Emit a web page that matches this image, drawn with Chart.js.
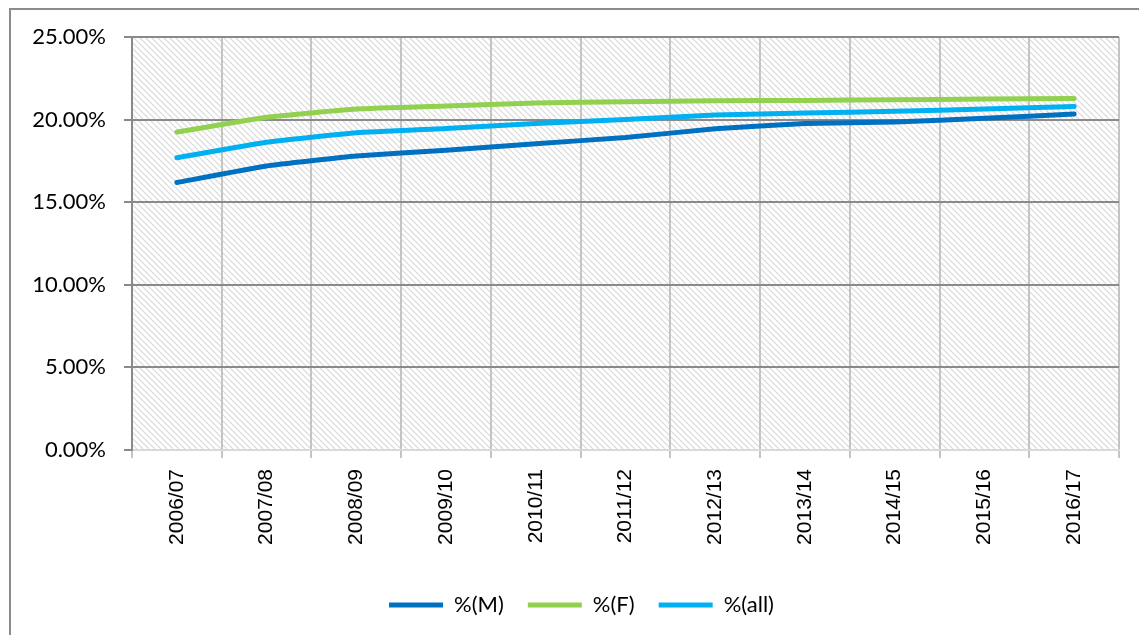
<!DOCTYPE html>
<html>
<head>
<meta charset="utf-8">
<script src="https://cdn.jsdelivr.net/npm/chart.js@4.4.1/dist/chart.umd.min.js"></script>
<style>
  html, body { margin: 0; padding: 0; background: #fff; }
  #frame {
    position: absolute; left: 9px; top: 8px; width: 1140px; height: 640px;
    border-left: 2px solid #8c8c8c; border-top: 2px solid #8c8c8c;
  }
  #wrap { position: absolute; left: 0; top: 0; width: 1139px; height: 635px; }
</style>
</head>
<body>
<div id="frame"></div>
<div id="wrap"><canvas id="shareChart"></canvas></div>
<script>
const years = ["2006/07", "2007/08", "2008/09", "2009/10", "2010/11", "2011/12",
               "2012/13", "2013/14", "2014/15", "2015/16", "2016/17"];
const pctMale   = [16.19, 17.19, 17.79, 18.15, 18.54, 18.92, 19.44, 19.76, 19.86, 20.08, 20.34];
const pctFemale = [19.24, 20.14, 20.64, 20.82, 21.00, 21.08, 21.14, 21.16, 21.20, 21.24, 21.27];
const pctAll    = [17.69, 18.63, 19.20, 19.46, 19.76, 20.00, 20.28, 20.40, 20.50, 20.64, 20.80];
const yTicks    = [0, 5, 10, 15, 20, 25];

// diagonal hatch used as the plot background
function makeHatch(ctx) {
    const tile = document.createElement("canvas");
    tile.width = 6;
    tile.height = 6;
    const t = tile.getContext("2d");
    t.fillStyle = "#ffffff";
    t.fillRect(0, 0, 6, 6);
    t.strokeStyle = "#d9d9d9";
    t.lineWidth = 1.2;
    t.beginPath();
    t.moveTo(-1, -1); t.lineTo(7, 7);
    t.moveTo(-7, -1); t.lineTo(1, 7);
    t.moveTo(5, -1); t.lineTo(13, 7);
    t.stroke();
    return ctx.createPattern(tile, "repeat");
}

const hatchBackground = {
    id: "hatchBackground",
    beforeDraw(chart) {
        const { ctx, chartArea: a } = chart;
        ctx.save();
        ctx.fillStyle = makeHatch(ctx);
        ctx.fillRect(a.left, a.top, a.right - a.left, a.bottom - a.top);
        ctx.restore();
    }
};

// legend sits a little right of the canvas centre
const legendShift = {
    id: "legendShift",
    afterLayout(chart) {
        chart.legend.left += 22;
        chart.legend.right += 22;
    }
};

function line(label, data, color) {
    return {
        label: label,
        data: data,
        borderColor: color,
        backgroundColor: color,
        borderWidth: 5,
        borderCapStyle: "round",
        borderJoinStyle: "round",
        pointRadius: 0,
        pointHoverRadius: 0,
        tension: 0.12,
        fill: false
    };
}

new Chart(document.getElementById("shareChart"), {
    type: "line",
    data: {
        labels: years,
        datasets: [
            line("%(M)", pctMale, "#0070c0"),
            line("%(F)", pctFemale, "#92d050"),
            line("%(all)", pctAll, "#00b0f0")
        ]
    },
    options: {
        responsive: true,
        maintainAspectRatio: false,
        animation: false,
        layout: { padding: { left: 0, top: 37, right: 20, bottom: 9 } },
        plugins: {
            tooltip: { enabled: false },
            legend: {
                position: "bottom",
                labels: {
                    usePointStyle: true,
                    pointStyle: "line",
                    pointStyleWidth: 54,
                    padding: 24,
                    color: "#000",
                    font: { family: "Lato, 'Open Sans', sans-serif", size: 22 }
                }
            }
        },
        scales: {
            x: {
                offset: true,
                afterFit(scale) { scale.height = 120; },
                grid: {
                    offset: true,
                    color: "#c4c4c4",
                    lineWidth: 2,
                    tickLength: 8
                },
                border: { color: "#d9d9d9", width: 2 },
                ticks: {
                    maxRotation: 90,
                    minRotation: 90,
                    padding: 11,
                    color: "#000",
                    font: { family: "'Liberation Sans', Arial, sans-serif", size: 21 }
                }
            },
            y: {
                min: 0,
                max: 25,
                afterFit(scale) { scale.width = 132; },
                afterBuildTicks(scale) {
                    scale.ticks = yTicks.map(v => ({ value: v }));
                },
                grid: {
                    color: "#8a8a8a",
                    lineWidth: 2,
                    tickLength: 8
                },
                border: { color: "#8a8a8a", width: 2 },
                ticks: {
                    padding: 18,
                    color: "#000",
                    font: { family: "Lato, 'Open Sans', sans-serif", size: 22 },
                    callback: v => v.toFixed(2) + "%"
                }
            }
        }
    },
    plugins: [hatchBackground, legendShift]
});
</script>
</body>
</html>
